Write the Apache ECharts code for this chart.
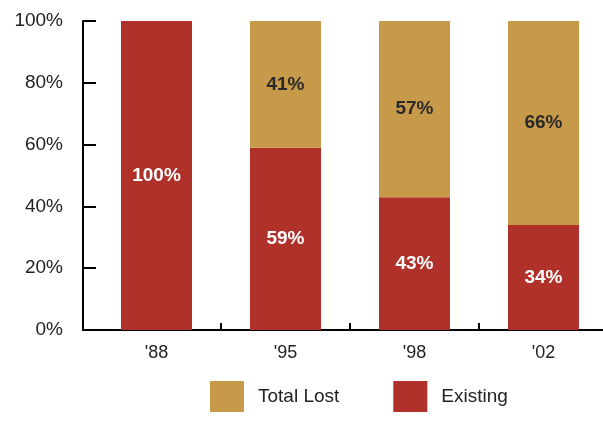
<!DOCTYPE html>
<html><head><meta charset="utf-8">
<script src="https://cdn.jsdelivr.net/npm/echarts@6/dist/echarts.min.js"></script>
<style>html,body{margin:0;padding:0;background:#fff}#c{width:603px;height:424px}</style>
</head><body><div id="c"></div>
<script>
var categories = ["'88", "'95", "'98", "'02"];
var existing = [100, 59, 43, 34];
var totalLost = [null, 41, 57, 66];
var yTicks = [0, 20, 40, 60, 80, 100];

var chart = echarts.init(document.getElementById('c'));
var font = 'Liberation Sans, Arial, sans-serif';
// category-unit boundaries between neighbouring categories
var bounds = categories.slice(1).map(function (c, i) { return i + 0.5; });

chart.setOption({
  animation: false,
  grid: [
    { left: 92, width: 516, top: 21, bottom: 94, outerBoundsMode: 'none', containLabel: false },
    { left: 83, right: 0, top: 21, bottom: 94, outerBoundsMode: 'none', containLabel: false }
  ],
  legend: {
    left: 205, top: 376, itemWidth: 34, itemHeight: 31, itemGap: 54,
    icon: 'rect',
    textStyle: { fontFamily: font, fontSize: 19, color: '#222', padding: [0, 0, 0, 9] },
    data: ['Total Lost', 'Existing']
  },
  xAxis: [
    {
      type: 'category', data: categories, gridIndex: 0,
      axisLine: { lineStyle: { color: '#000', width: 2 } },
      axisTick: { show: false },
      axisLabel: { fontFamily: font, fontSize: 18, color: '#222', margin: 14 }
    },
    {
      type: 'value', gridIndex: 1, min: -0.5698, max: 3.4612,
      axisLine: { show: true, onZero: false, lineStyle: { color: '#000', width: 2 } },
      axisTick: { show: true, inside: true, length: 7, customValues: bounds,
        lineStyle: { color: '#000', width: 2 } },
      axisLabel: { show: false }, splitLine: { show: false }
    }
  ],
  yAxis: [
    {
      type: 'value', gridIndex: 0, min: 0, max: 100, interval: 20,
      axisLine: { show: false }, axisTick: { show: false },
      axisLabel: { show: false }, splitLine: { show: false }
    },
    {
      type: 'value', gridIndex: 1, min: 0, max: 100, interval: 20,
      axisLine: { show: true, onZero: false, lineStyle: { color: '#000', width: 2 } },
      axisTick: { show: true, inside: true, length: 13, lineStyle: { color: '#000', width: 2 } },
      splitLine: { show: false },
      axisLabel: { fontFamily: font, fontSize: 19, color: '#222', margin: 20,
        padding: [0, 0, 4, 0],
        formatter: function (v) { return yTicks.indexOf(v) >= 0 ? v + '%' : ''; } }
    }
  ],
  series: [
    {
      name: 'Existing', type: 'bar', stack: 's', data: existing, barWidth: 71,
      xAxisIndex: 0, yAxisIndex: 0,
      itemStyle: { color: '#B0302A' },
      label: { show: true, position: 'inside', formatter: '{c}%', color: '#fff',
        fontFamily: font, fontWeight: 'bold', fontSize: 19 }
    },
    {
      name: 'Total Lost', type: 'bar', stack: 's', data: totalLost, barWidth: 71,
      xAxisIndex: 0, yAxisIndex: 0,
      itemStyle: { color: '#C79A4A' },
      label: { show: true, position: 'inside', formatter: '{c}%', color: '#2a2a2a',
        fontFamily: font, fontWeight: 'bold', fontSize: 19 }
    }
  ]
});
</script></body></html>
